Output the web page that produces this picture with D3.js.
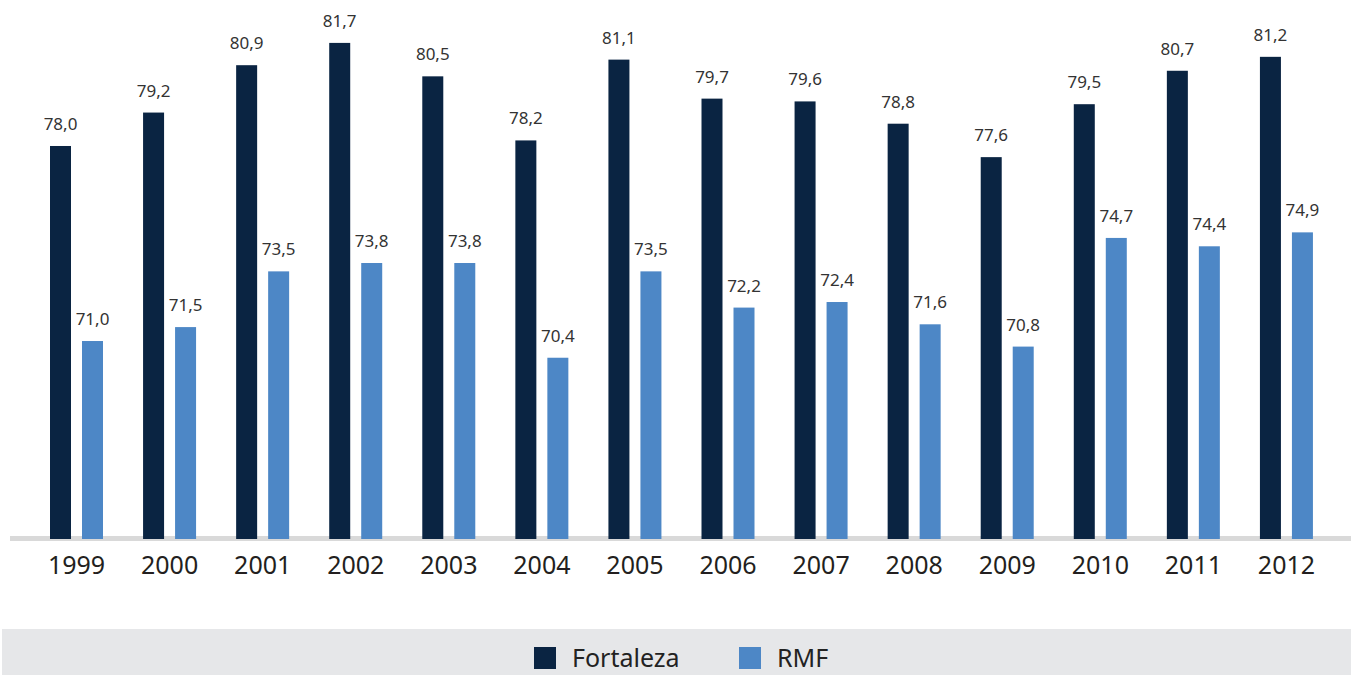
<!DOCTYPE html>
<html>
<head>
<meta charset="utf-8">
<script src="https://cdn.jsdelivr.net/npm/d3@7"></script>
<style>
  body { margin: 0; background: #fff; }
  svg { display: block; font-family: "Noto Sans", "Open Sans", sans-serif; }
</style>
</head>
<body>
<svg id="chart" width="1351" height="675"></svg>
<script>
// data
var years = ["1999","2000","2001","2002","2003","2004","2005","2006","2007","2008","2009","2010","2011","2012"];
var series = ["Fortaleza", "RMF"];
var fortaleza = [78.0, 79.2, 80.9, 81.7, 80.5, 78.2, 81.1, 79.7, 79.6, 78.8, 77.6, 79.5, 80.7, 81.2];
var rmf = [71.0, 71.5, 73.5, 73.8, 73.8, 70.4, 73.5, 72.2, 72.4, 71.6, 70.8, 74.7, 74.4, 74.9];
var colors = ["#0a2442", "#4d87c6"];

var svg = d3.select("#chart");
var baseY = 538;

var x0 = d3.scaleBand().domain(years).range([30, 1333]).padding(0);
var x1 = d3.scaleBand().domain(series).range([20, 73]).paddingInner(11 / 32).paddingOuter(0);
var y = d3.scaleLinear().domain([63.93, 83.24]).range([baseY, 0]);
var color = d3.scaleOrdinal().domain(series).range(colors);

var rows = years.map(function(yr, i) {
	return { year: yr, vals: [ {s: "Fortaleza", v: fortaleza[i]}, {s: "RMF", v: rmf[i]} ] };
});

// gray baseline
svg.append("rect")
	.attr("x", 10).attr("y", 536)
	.attr("width", 1341).attr("height", 5)
	.attr("fill", "#d9d9d9");

var groups = svg.selectAll("g.grp")
	.data(rows)
	.enter().append("g")
	.attr("class", "grp")
	.attr("transform", function(d) { return "translate(" + x0(d.year) + ",0)"; });

groups.selectAll("rect")
	.data(function(d) { return d.vals; })
	.enter().append("rect")
	.attr("x", function(d) { return x1(d.s); })
	.attr("y", function(d) { return y(d.v); })
	.attr("width", x1.bandwidth())
	.attr("height", function(d) { return baseY + 1 - y(d.v); })
	.attr("fill", function(d) { return color(d.s); });

groups.selectAll("text.val")
	.data(function(d) { return d.vals; })
	.enter().append("text")
	.attr("class", "val")
	.attr("x", function(d) { return x1(d.s) + x1.bandwidth() / 2; })
	.attr("y", function(d) { return y(d.v) - 16; })
	.attr("text-anchor", "middle")
	.attr("font-size", 17)
	.attr("fill", "#333")
	.text(function(d) { return d.v.toFixed(1).replace(".", ","); });

// year labels via axis
var xAxis = d3.axisBottom(x0).tickSize(0).tickPadding(0);
var ax = svg.append("g").attr("transform", "translate(0,556)").call(xAxis);
ax.select(".domain").remove();
ax.selectAll("text")
	.attr("font-size", 25)
	.attr("font-family", "\"Noto Sans\", sans-serif")
	.attr("fill", "#231f20")
	.attr("dy", "0.7em");

// legend band
svg.append("rect")
	.attr("x", 2).attr("y", 629)
	.attr("width", 1349).attr("height", 46)
	.attr("fill", "#e6e7e9");

var legX = [534, 739];
var leg = svg.selectAll("g.leg")
	.data(series)
	.enter().append("g")
	.attr("class", "leg")
	.attr("transform", function(d, i) { return "translate(" + legX[i] + ",647)"; });
leg.append("rect")
	.attr("width", 22).attr("height", 22)
	.attr("fill", function(d) { return color(d); });
leg.append("text")
	.attr("x", 38).attr("y", 20)
	.attr("font-size", 25)
	.attr("fill", "#222")
	.text(function(d) { return d; });
</script>
</body>
</html>
